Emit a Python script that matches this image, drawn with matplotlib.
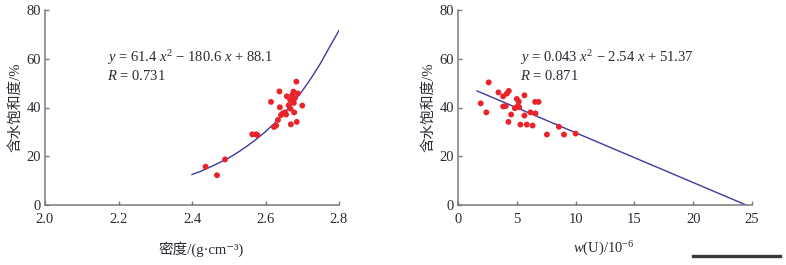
import matplotlib
matplotlib.use("Agg")
import matplotlib.pyplot as plt
from matplotlib.lines import Line2D

plt.rcParams['font.family'] = ['Liberation Serif', 'Noto Sans CJK SC', 'DejaVu Sans']
plt.rcParams['mathtext.fontset'] = 'custom'
plt.rcParams['mathtext.rm'] = 'Liberation Serif'
plt.rcParams['mathtext.it'] = 'Liberation Serif:italic'
plt.rcParams['axes.unicode_minus'] = False

# left panel: density vs water saturation
density = [2.437, 2.468, 2.490, 2.564, 2.574, 2.578, 2.615, 2.623, 2.629, 2.634,
           2.638, 2.639, 2.642, 2.647, 2.653, 2.656, 2.658, 2.663, 2.667, 2.668,
           2.669, 2.673, 2.676, 2.677, 2.678, 2.680, 2.684, 2.685, 2.688, 2.700]
sat_left = [15.7, 12.2, 18.7, 29.0, 29.0, 28.7, 42.3, 32.0, 32.6, 34.9,
            46.6, 40.1, 36.9, 37.6, 38.0, 37.1, 44.6, 40.9, 43.1, 39.5,
            33.1, 45.1, 46.5, 41.9, 38.0, 43.8, 50.6, 34.1, 45.8, 40.8]
# fitted curve as drawn
fit_left_x = [2.400, 2.425, 2.450, 2.475, 2.500, 2.525, 2.550, 2.575, 2.600,
              2.625, 2.650, 2.675, 2.700, 2.725, 2.750, 2.775, 2.800]
fit_left_y = [12.5, 13.9, 15.6, 17.4, 19.3, 21.6, 24.2, 27.0, 30.1,
              33.6, 37.5, 42.0, 46.8, 52.2, 58.2, 65.0, 71.6]

# right panel: U content vs water saturation
uranium = [1.93, 2.41, 2.61, 3.44, 3.84, 3.84, 4.06, 4.15, 4.32, 4.29,
           4.52, 4.83, 5.00, 5.09, 5.17, 5.20, 5.31, 5.65, 5.65, 5.85,
           6.16, 6.34, 6.56, 6.59, 6.85, 7.56, 8.58, 9.01, 10.0]
sat_right = [41.7, 38.0, 50.3, 46.2, 44.6, 40.4, 40.6, 45.7, 46.8, 34.1,
             37.1, 39.7, 43.5, 40.6, 42.4, 40.1, 33.0, 45.0, 36.7, 33.0,
             38.0, 32.6, 42.3, 37.6, 42.3, 28.9, 32.1, 28.9, 29.3]
fit_right_x = [1.62, 24.5]
fit_right_y = [46.8, 0.0]

red = '#e8242a'
navy = '#3b3b9e'
spine_c = '#7a7a7a'
txt_c = '#2a2a36'
fs = 10.5

fig = plt.figure(figsize=(7.86, 2.65), dpi=100)
ax1 = fig.add_axes([45/786, 60/265, 294/786, 195/265])
ax2 = fig.add_axes([458/786, 60/265, 294/786, 195/265])

def style(ax):
    for s in ['top', 'right']:
        ax.spines[s].set_visible(False)
    for s in ['left', 'bottom']:
        ax.spines[s].set_color(spine_c)
        ax.spines[s].set_linewidth(1.1)
    ax.tick_params(direction='in', length=3, width=1, color=spine_c,
                   labelsize=fs, labelcolor=txt_c)
    ax.tick_params(axis='x', pad=6)
    ax.tick_params(axis='y', pad=3)
    ax.set_ylim(0, 80)
    ax.set_yticks([0, 20, 40, 60, 80])
    ax.text(-0.10, 0.5, '含水饱和度/%', transform=ax.transAxes, rotation=90,
            ha='center', va='center', fontsize=fs, color=txt_c)

style(ax1)
ax1.set_xlim(2.0, 2.8)
ax1.set_xticks([2.0, 2.2, 2.4, 2.6, 2.8])
ax1.set_xticklabels(['2.0', '2.2', '2.4', '2.6', '2.8'])
ax1.plot(fit_left_x, fit_left_y, color=navy, lw=1.0, zorder=2)
ax1.scatter(density, sat_left, s=18, color=red, edgecolors='none', zorder=3, clip_on=False)
ax1.text(2.169, 60.3, '$y$ = 61.4 $x^2$ − 180.6 $x$ + 88.1', fontsize=fs,
         color=txt_c, va='center', ha='left')
ax1.text(2.169, 52.9, '$R$ = 0.731', fontsize=fs, color=txt_c, va='center', ha='left')
ax1.text(0.53, -0.225, '密度/(g·cm⁻³)', transform=ax1.transAxes,
         fontsize=fs, color=txt_c, ha='center', va='center')

style(ax2)
ax2.set_xlim(0, 25)
ax2.set_xticks([0, 5, 10, 15, 20, 25])
ax2.plot(fit_right_x, fit_right_y, color=navy, lw=1.0, zorder=2)
ax2.scatter(uranium, sat_right, s=18, color=red, edgecolors='none', zorder=3, clip_on=False)
ax2.text(5.27, 60.3, '$y$ = 0.043 $x^2$ − 2.54 $x$ + 51.37', fontsize=fs,
         color=txt_c, va='center', ha='left')
ax2.text(5.27, 52.9, '$R$ = 0.871', fontsize=fs, color=txt_c, va='center', ha='left')
ax2.text(0.495, -0.225, '$w$(U)/10$^{-6}$', transform=ax2.transAxes,
         fontsize=fs, color=txt_c, ha='center', va='center')

# dark bar in lower right corner
fig.add_artist(Line2D([693/786, 780/786], [1 - 256/265, 1 - 256/265],
                      transform=fig.transFigure, color='#3d3836', lw=2.4))

fig.savefig('out.png', dpi=100)
